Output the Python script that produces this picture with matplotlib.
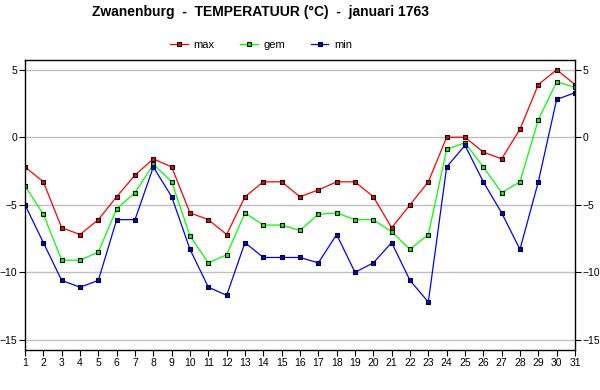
import matplotlib
matplotlib.use("Agg")
import matplotlib.pyplot as plt
from matplotlib.ticker import MultipleLocator

plt.rcParams['font.family'] = ['Liberation Sans', 'DejaVu Sans']

# daily temperatures, januari 1763
days = list(range(1, 32))
t_max = [-2.2, -3.3, -6.7, -7.2, -6.1, -4.4, -2.8, -1.6, -2.2, -5.6,
         -6.1, -7.2, -4.4, -3.3, -3.3, -4.4, -3.9, -3.3, -3.3, -4.4,
         -6.7, -5.0, -3.3, 0.0, 0.0, -1.1, -1.6, 0.6, 3.9, 5.0, 3.9]
t_gem = [-3.6, -5.7, -9.1, -9.1, -8.5, -5.3, -4.1, -2.0, -3.3, -7.3,
         -9.3, -8.7, -5.6, -6.5, -6.5, -6.9, -5.7, -5.6, -6.1, -6.1,
         -7.0, -8.3, -7.2, -0.9, -0.4, -2.2, -4.1, -3.3, 1.3, 4.1, 3.7]
t_min = [-5.0, -7.8, -10.6, -11.1, -10.6, -6.1, -6.1, -2.2, -4.4, -8.3,
         -11.1, -11.7, -7.8, -8.9, -8.9, -8.9, -9.3, -7.2, -10.0, -9.3,
         -7.8, -10.6, -12.2, -2.2, -0.6, -3.3, -5.6, -8.3, -3.3, 2.8, 3.3]

fig = plt.figure(figsize=(6, 3.9), dpi=100)
ax = fig.add_axes([0.0417, 0.1026, 0.9166, 0.7428])

series = [(t_max, '#ff0000', 'max'), (t_gem, '#00ff00', 'gem'), (t_min, '#0000ff', 'min')]
for vals, col, lab in series:
    ax.plot(days, vals, color=col, lw=0.9, marker='s', ms=3.2,
            mfc=col, mec='black', mew=0.8, label=lab)

ax.set_xlim(1, 31)
ax.set_ylim(-15.75, 5.7)
ax.set_xticks(days)
ax.yaxis.set_major_locator(MultipleLocator(5))
ax.grid(axis='y', color='#c0c0c0', lw=1)
ax.set_axisbelow(True)
ax.tick_params(axis='both', direction='out', length=4, width=0.8, labelsize=7.5, pad=1.5)
ax.tick_params(axis='y', right=True, labelright=True)
for s in ax.spines.values():
    s.set_linewidth(1)

fig.text(0.435, 0.968, 'Zwanenburg  -  TEMPERATUUR (°C)  -  januari 1763',
         ha='center', va='center', fontsize=10, fontweight='bold')
fig.legend(loc='center', bbox_to_anchor=(0.435, 0.885), ncol=3, frameon=False,
           fontsize=8, handlelength=1.6, columnspacing=2.3, handletextpad=0.5)

fig.savefig('out.png', dpi=100)
